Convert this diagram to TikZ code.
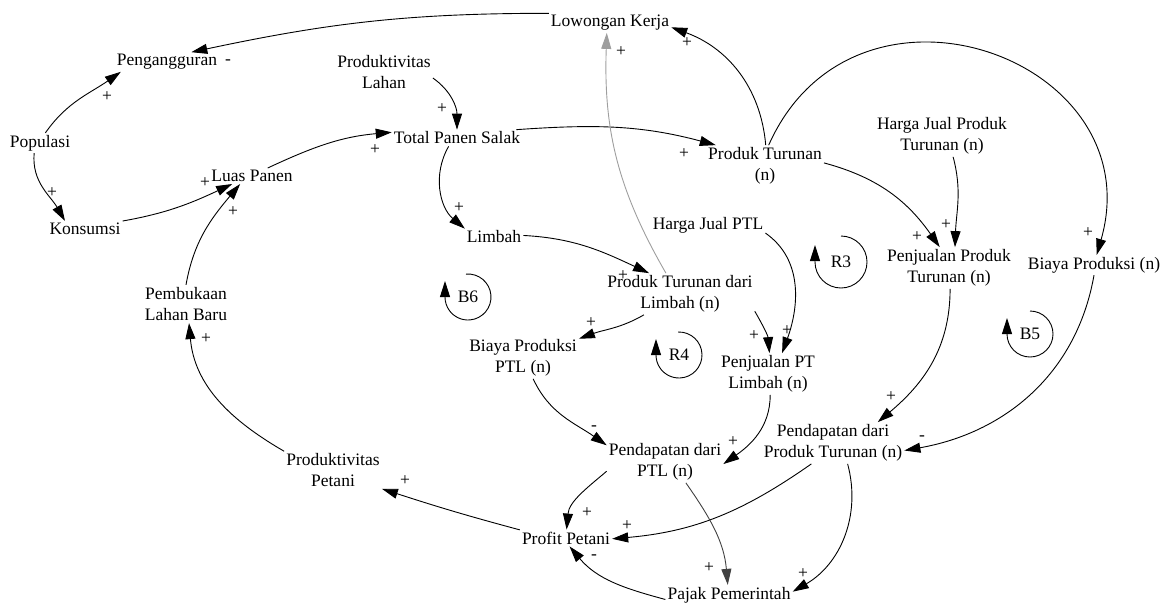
\documentclass[tikz,border=0pt]{standalone}
\usepackage{fontspec}
\setmainfont{Liberation Serif}
\usetikzlibrary{arrows.meta}
\tikzset{
  var/.style={font=\fontsize{17.5}{21.5}\selectfont, align=center, inner sep=2pt},
  pol/.style={font=\fontsize{17.5}{21.5}\selectfont, inner sep=0pt},
  conn/.style={-{Triangle[length=16pt,width=10pt]}, line width=0.9pt, black},
  faint/.style={conn, draw=black!38, -{Triangle[length=16pt,width=10pt,fill=black!38]}},
  dim/.style={conn, draw=black!75, -{Triangle[length=16pt,width=10pt,fill=black!75]}},
  loopline/.style={conn}
}
\begin{document}
\begin{tikzpicture}[x=1pt,y=1pt]
\useasboundingbox (0,0) rectangle (1169,-606);

% variables
\node[var] (lk)      at (610,-23)  {Lowongan Kerja};
\node[var] (peng)    at (167,-62)  {Pengangguran};
\node[var] (pl)      at (384,-72)  {Produktivitas\\Lahan};
\node[var] (pop)     at (40,-143)  {Populasi};
\node[var] (kons)    at (85,-229)  {Konsumsi};
\node[var] (luas)    at (252,-176) {Luas Panen};
\node[var] (tps)     at (457,-138) {Total Panen Salak};
\node[var] (pt)      at (765,-166) {Produk Turunan\\(n)};
\node[var] (hjpt)    at (942,-136) {Harga Jual Produk\\Turunan (n)};
\node[var] (limbah)  at (494,-237) {Limbah};
\node[var] (hjptl)   at (708,-225) {Harga Jual PTL};
\node[var] (pjpt)    at (949,-268) {Penjualan Produk\\Turunan (n)};
\node[var] (bp)      at (1094,-265){Biaya Produksi (n)};
\node[var] (ptl)     at (680,-294) {Produk Turunan dari\\Limbah (n)};
\node[var] (bpptl)   at (523,-358) {Biaya Produksi\\PTL (n)};
\node[var] (pjptl)   at (768,-374) {Penjualan PT\\Limbah (n)};
\node[var] (pemb)    at (186,-304) {Pembukaan\\Lahan Baru};
\node[var] (pdpt)    at (833,-443) {Pendapatan dari\\Produk Turunan (n)};
\node[var] (pdptl)   at (665,-462) {Pendapatan dari\\PTL (n)};
\node[var] (prodpet) at (333,-470) {Produktivitas\\Petani};
\node[var] (profit)  at (566,-538) {Profit Petani};
\node[var] (pajak)   at (729,-595) {Pajak Pemerintah};

% loop markers
\node[var] (b6) at (468,-297)  {B6};
\node[var] (r4) at (679,-355)  {R4};
\node[var] (r3) at (841,-262)  {R3};
\node[var] (b5) at (1030,-334) {B5};
\draw[loopline] ([shift={(95:23)}]b6.center) arc[start angle=95, end angle=-180, radius=23] -- ++(0,16);
\draw[loopline] ([shift={(92:23)}]r4.center) arc[start angle=92, end angle=-180, radius=23] -- ++(0,16);
\draw[loopline] ([shift={(90:26)}]r3.center) arc[start angle=90, end angle=-180, radius=26] -- ++(0,17);
\draw[loopline] ([shift={(90:23)}]b5.center) arc[start angle=90, end angle=-180, radius=23] -- ++(0,16);

% causal links
\draw[conn]  (lk.171)     to[out=180,in=12]  (peng.22);
\draw[conn]  (pop.62)     to[out=55,in=215]  (peng.192);
\draw[conn]  (pop.240)    to[out=265,in=120] (kons.158);
\draw[conn]  (kons.12)    to[out=10,in=205]  (luas.202);
\draw[conn]  (pemb.90)    to[out=80,in=230]  (luas.214);
\draw[conn]  (luas.27)    to[out=25,in=185]  (tps.175);
\draw[conn]  (pl.-7)      to[out=-35,in=90]  (tps.90);
\draw[conn]  (tps.8)      to[out=4,in=165]   (pt.157);
\draw[conn]  (tps.225)    to[out=240,in=140] (limbah.164);
\draw[conn]  (pt.88)      to[out=95,in=-20]  (lk.-4);
\draw[faint] (ptl.124)    to[out=120,in=268] (lk.252);
\draw[conn]  (pt.80) .. controls +(66:212) and +(74:205) .. (bp.75);
\draw[conn]  (pt.3)       to[out=-15,in=125] (pjpt.114);
\draw[conn]  (hjpt.-62)   to[out=-75,in=88]  (pjpt.74);
\draw[conn]  (hjptl.-8)   to[out=-35,in=70]  (pjptl.56);
\draw[conn]  (ptl.-13)    to[out=-60,in=95]  (pjptl.86);
\draw[conn]  (limbah.3)   to[out=-3,in=155]  (ptl.146);
\draw[conn]  (ptl.210)    to[out=210,in=20]  (bpptl.19);
\draw[conn]  (bpptl.-64)  to[out=-65,in=145] (pdptl.164);
\draw[conn]  (pjptl.-84)  to[out=-90,in=35]  (pdptl.-2);
\draw[conn]  (pjpt.-87)   to[out=-90,in=40]  (pdpt.25);
\draw[conn]  (bp.-90)     to[out=-100,in=10] (pdpt.-6);
\draw[conn]  (pdptl.189)  to[out=220,in=85]  (profit.86);
\draw[conn]  (pdpt.224)   to[out=215,in=5]   (profit.-1);
\draw[dim]   (pdptl.-45)  to[out=-55,in=95]  (pajak.97);
\draw[conn]  (pdpt.-55)   to[out=-75,in=30]  (pajak.3);
\draw[conn]  (pajak.184)  to[out=165,in=-50] (profit.-67);
\draw[conn]  (profit.170) to[out=165,in=-18] (prodpet.-21);
\draw[conn]  (prodpet.159) to[out=150,in=-85] (pemb.-81);

% link polarities
\node[pol] (s1)  at (228,-62)  {-};
\node[pol] (s2)  at (107,-97)  {+};
\node[pol] (s3)  at (52,-193)  {+};
\node[pol] (s4)  at (205,-183) {+};
\node[pol] (s5)  at (233,-212) {+};
\node[pol] (s6)  at (375,-150) {+};
\node[pol] (s7)  at (442,-109) {+};
\node[pol] (s8)  at (684,-154) {+};
\node[pol] (s9)  at (459,-208) {+};
\node[pol] (s10) at (687,-43)  {+};
\node[pol] (s11) at (621,-52)  {+};
\node[pol] (s12) at (1088,-233){+};
\node[pol] (s13) at (917,-237) {+};
\node[pol] (s14) at (946,-225) {+};
\node[pol] (s15) at (787,-331) {+};
\node[pol] (s16) at (754,-336) {+};
\node[pol] (s17) at (623,-276) {+};
\node[pol] (s18) at (591,-323) {+};
\node[pol] (s19) at (594,-428) {-};
\node[pol] (s20) at (733,-442) {+};
\node[pol] (s21) at (891,-397) {+};
\node[pol] (s22) at (922,-438) {-};
\node[pol] (s23) at (587,-513) {+};
\node[pol] (s24) at (627,-526) {+};
\node[pol] (s25) at (709,-568) {+};
\node[pol] (s26) at (803,-574) {+};
\node[pol] (s27) at (594,-557) {-};
\node[pol] (s28) at (405,-481) {+};
\node[pol] (s29) at (206,-339) {+};
\end{tikzpicture}
\end{document}
